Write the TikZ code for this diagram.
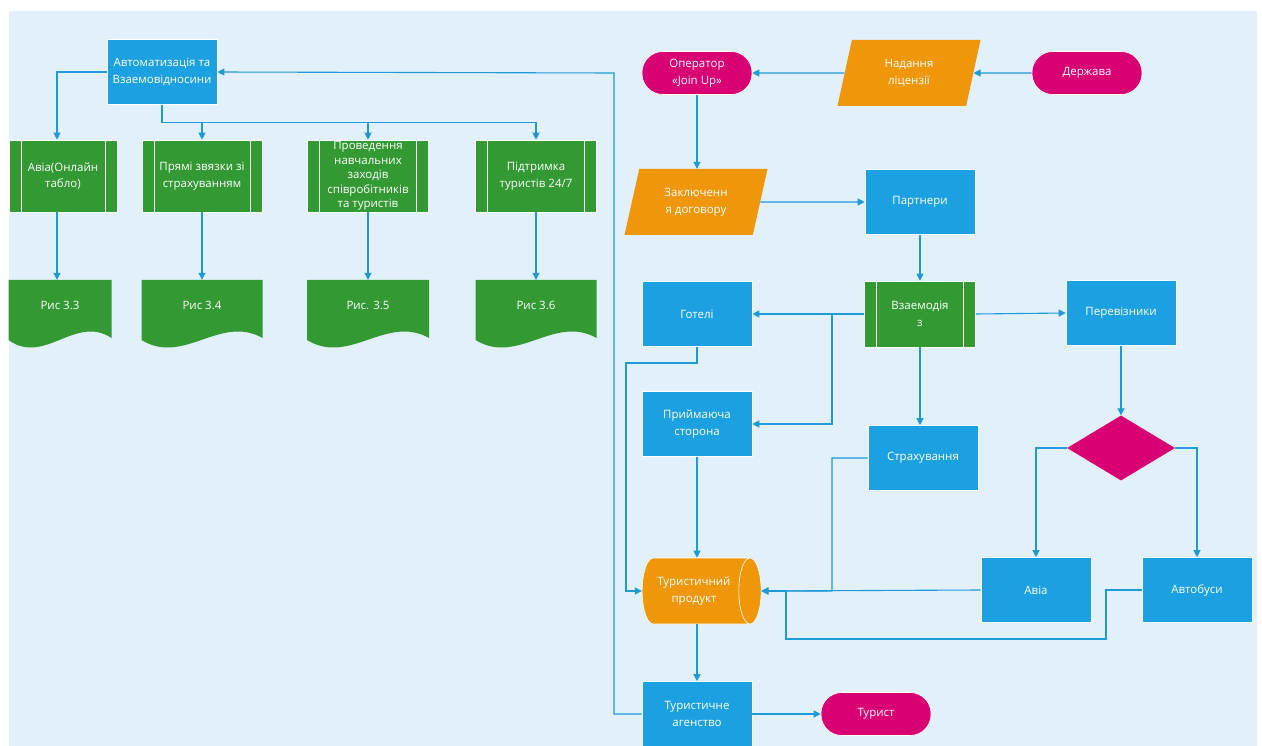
\documentclass[tikz,border=0pt]{standalone}
\usepackage{fontspec}
\setmainfont{Open Sans}
\usetikzlibrary{shapes.geometric,arrows.meta}

\definecolor{mblue}{HTML}{1BA1E2}
\definecolor{mgreen}{HTML}{339933}
\definecolor{morange}{HTML}{F09609}
\definecolor{mmagenta}{HTML}{D80073}
\definecolor{lineblue}{HTML}{1E9AD6}
\definecolor{bgblue}{HTML}{E1F0FA}

\tikzset{
	base/.style={text=white, align=center, font=\fontsize{11.5}{16.5}\selectfont, inner sep=2pt},
	procbox/.style={base, rectangle, fill=mblue, draw=white, line width=.6pt, minimum width=110, minimum height=65},
	subproc/.style={base, rectangle, fill=mgreen, draw=white, line width=.6pt, minimum width=#1, minimum height=72,
		path picture={\draw[white, line width=.6pt]
			([xshift=12]path picture bounding box.north west) -- ([xshift=12]path picture bounding box.south west)
			([xshift=-12]path picture bounding box.north east) -- ([xshift=-12]path picture bounding box.south east);}},
	parbox/.style={base, trapezium, trapezium left angle=65, trapezium right angle=115, trapezium stretches body,
		fill=morange, minimum width=143, minimum height=66},
	termbox/.style={base, rectangle, rounded corners=21, fill=mmagenta, draw=white, line width=.6pt, minimum width=110, minimum height=43},
	conn/.style={draw=lineblue, line width=1.1pt, -{Triangle[length=7pt,width=7pt]}},
}

\begin{document}
\begin{tikzpicture}[x=1pt,y=-1pt]
	\useasboundingbox (0,0) rectangle (1262,746);
	\fill[white] (0,0) rectangle (1262,746);
	\fill[bgblue] (9,11) rectangle (1257,746);
	
	% left part
	\node[procbox] (auto) at (162,72) {Автоматизація та\\Взаемовідносини};
	\node[subproc=108] (avia1) at (63,176) {Авіа(Онлайн\\табло)};
	\node[subproc=120] (priami) at (202,176) {Прямі звязки зі\\страхуванням};
	\node[subproc=121, font=\fontsize{11.5}{14.5}\selectfont, inner sep=0pt] (proved) at (368,176) {Проведення\\навчальних\\заходів\\співробітників\\та туристів};
	\node[subproc=121] (pidtr) at (536,176) {Підтримка\\туристів 24/7};
	
	\foreach \n/\x/\w/\t in {r1/60/103/{Рис 3.3}, r2/202/121/{Рис 3.4}, r3/368/122/{Рис. 3.5}, r4/536/121/{Рис 3.6}}{
		\fill[mgreen] (\x-\w/2,280) -- (\x+\w/2,280) -- (\x+\w/2,338)
			.. controls (\x+.15*\w,314) and (\x-.15*\w,366) .. (\x-\w/2,340) -- cycle;
		\node[base, minimum width=\w, minimum height=50] (\n) at (\x,305) {\t};
	}
	
	% right part
	\node[termbox] (oper) at (697,73) {Оператор\\«Join Up»};
	\node[parbox] (lic) at (909,73) {Надання\\ліцензії};
	\node[termbox] (derzh) at (1087,73) {Держава};
	\node[parbox] (dog) at (696,202) {Заключенн\\я договору};
	\node[procbox] (partn) at (920,202) {Партнери};
	\node[procbox] (hotel) at (697,314) {Готелі};
	\node[subproc=111, minimum height=66] (vzaiem) at (920,314) {Взаемодія\\з};
	\node[procbox] (perev) at (1121,313) {Перевізники};
	\node[procbox] (pryim) at (697,424) {Приймаюча\\сторона};
	\node[procbox] (strakh) at (923,458) {Страхування};
	\node[diamond, fill=mmagenta, minimum width=108, minimum height=65, inner sep=0pt] (romb) at (1121,448) {};
	\node[procbox] (avia2) at (1036,590) {Авіа};
	\node[procbox] (avtob) at (1197,590) {Автобуси};
	\node[base, cylinder, shape aspect=.7, fill=morange, draw=white, line width=.6pt,
		minimum width=66, minimum height=119] (tprod) at (694,591) {Туристичний\\продукт};
	\node[procbox] (agency) at (697,714) {Туристичне\\агенство};
	\node[termbox] (tourist) at (876,714) {Турист};
	
	\coordinate (br1) at (832,314);
	\coordinate (gturn) at (626,363);
	\coordinate (sturn) at (832,591);
	\coordinate (bturn1) at (1106,639);
	\coordinate (bturn2) at (786,639);
	\coordinate (lturn) at (614,73);
	
	% connectors
	\draw[conn] (auto.west) -| ([xshift=-6]avia1.north);
	\foreach \n in {priami,proved,pidtr}
		\draw[conn] (auto.south) |- ([yshift=17]\n.north) -- (\n.north);
	\draw[conn] ([xshift=-6]avia1.south) -- ([xshift=-6]avia1.south |- r1.north);
	\draw[conn] (priami.south) -- (r2.north);
	\draw[conn] (proved.south) -- (r3.north);
	\draw[conn] (pidtr.south) -- (r4.north);
	
	\draw[conn] (derzh.west) -- (lic.east);
	\draw[conn] (lic.west) -- (oper.east);
	\draw[conn] (oper.south) -- (oper.south |- dog.north);
	\draw[conn] (dog.east) -- (partn.west);
	\draw[conn] (partn.south) -- (vzaiem.north);
	\draw[conn] (vzaiem.west) -- (hotel.east);
	\draw[conn] (br1) |- (pryim.east);
	\draw[conn] (vzaiem.south) -- (vzaiem.south |- strakh.north);
	\draw[conn] (vzaiem.east) -- (perev.west);
	\draw[conn] (perev.south) -- (romb.north);
	\draw[conn] (romb.west) -| (avia2.north);
	\draw[conn] (romb.east) -| (avtob.north);
	
	\draw[conn] (hotel.south) |- (gturn) |- (tprod.west);
	\draw[conn] (pryim.south) -- (pryim.south |- tprod.north);
	\draw[conn] (strakh.west) -| (sturn) -- (tprod.east);
	\draw[conn] (avia2.west) -- (tprod.east);
	\draw[conn] (avtob.west) -| (bturn1) -- (bturn2) |- (tprod.east);
	\draw[conn] (agency.north |- tprod.south) -- (agency.north);
	\draw[conn] (agency.east) -- (tourist.west);
	\draw[conn] (agency.west) -| (lturn) -- (auto.east);
\end{tikzpicture}
\end{document}
